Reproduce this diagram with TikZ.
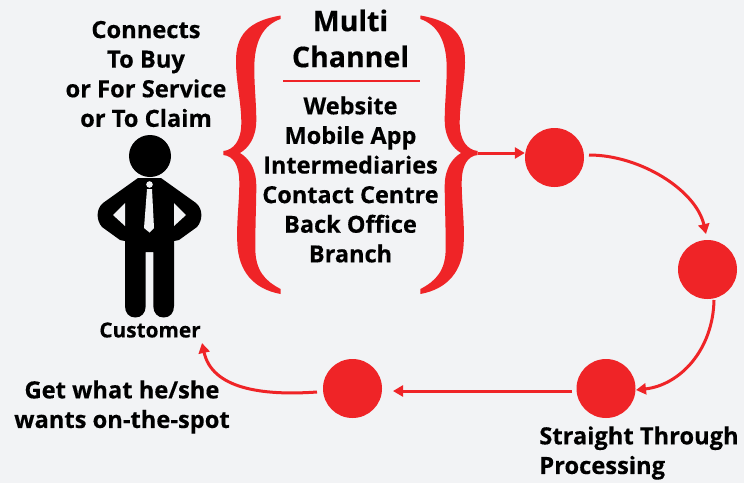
\documentclass[tikz,border=0pt]{standalone}
\usepackage{fontspec}
\setmainfont[BoldFeatures={FakeBold=0.35}]{Open Sans}
\usetikzlibrary{arrows.meta}
\definecolor{flowred}{HTML}{EF2427}
\definecolor{pagegrey}{HTML}{F2F3F5}
\tikzset{
  stepdot/.style={circle,fill=flowred,minimum size=59pt,inner sep=0pt},
  flow/.style={-{Triangle[length=10pt,width=11pt]},flowred,line width=3pt},
  label/.style={align=center,font=\fontsize{23.7}{29.6}\selectfont\bfseries,inner sep=0pt},
  curlybrace/.pic={
    \fill[flowred] (57.3,-137.5) .. controls (25,-132) and (12,-118) .. (12.7,-90)
      .. controls (13,-70) and (18,-50) .. (18,-30) .. controls (18,-12) and (10,-3) .. (0,-2)
      -- (0,2) .. controls (10,3) and (16,12) .. (16,30) .. controls (16,50) and (13,70) .. (14,90)
      .. controls (15,118) and (30,136) .. (57.3,141) -- (57.3,136)
      .. controls (42,128) and (32,118) .. (32,95) .. controls (32,70) and (33,50) .. (33,33)
      .. controls (33,15) and (25,5) .. (16.7,0) .. controls (25,-5) and (33,-15) .. (33,-33)
      .. controls (33,-50) and (31,-65) .. (31,-85) .. controls (31,-112) and (40,-128) .. (57.3,-134) -- cycle;
  }
}
\begin{document}
\begin{tikzpicture}[x=1pt,y=-1pt]

% Background
\fill[pagegrey] (0,0) rectangle (744,483);
\useasboundingbox (0,0) rectangle (744,483);

% Customer figure
\fill[black] (150,156) circle (21);
\fill[black] (138,178) -- (161,178) -- (196,203) .. controls (203,209) and (203,220) .. (197,227)
  -- (179,240) -- (174,241) -- (174,306) .. controls (174,313) and (170,317.5) .. (163.7,317.5)
  .. controls (157.5,317.5) and (153.3,313) .. (153.3,306) -- (153.3,252) -- (145.7,252) -- (145.7,306)
  .. controls (145.7,313) and (141.5,317.5) .. (135.3,317.5) .. controls (129,317.5) and (125,313) .. (125,306)
  -- (125,241) -- (120,240) -- (102,227) .. controls (96,220) and (96,209) .. (103,203) -- cycle;
\fill[pagegrey] (125,203) -- (113,215) -- (125,226) -- cycle;
\fill[pagegrey] (174,203) -- (186,215) -- (174,226) -- cycle;
\fill[pagegrey] (149.5,184.5) circle (3.3);
\fill[pagegrey] (147,189) -- (144,228) -- (149.5,232.5) -- (154,228) -- (152,189) -- cycle;

% Texts
\node[label] (connects) at (146,74) {Connects\\To Buy\\or For Service\\or To Claim};
\node[label,font=\fontsize{20.8}{24}\selectfont\bfseries] (customer) at (150,330) {Customer};
\node[label,font=\fontsize{28.5}{36}\selectfont\bfseries] (multi) at (350.5,38.5) {Multi\\Channel};
\node[label,font=\fontsize{23.5}{29.6}\selectfont\bfseries] (channels) at (350.5,179.5) {Website\\Mobile App\\Intermediaries\\Contact Centre\\Back Office\\Branch};
\node[label] (spot) at (122,407) {Get what he/she\\wants on-the-spot};
\node[label,align=left] (straight) at (639,453) {Straight Through\\Processing};

% Rule under the title
\coordinate (ruleL) at (283,81);
\coordinate (ruleR) at (420,81);
\draw[flowred,line width=1.3pt] (ruleL) -- (ruleR);

% Braces
\pic at (223.3,153) {curlybrace};
\pic[xscale=-1] at (477.7,153) {curlybrace};
\coordinate (braceR) at (478,153);

% Steps
\node[stepdot] (stepA) at (554.5,157.5) {};
\node[stepdot] (stepB) at (707.5,269.5) {};
\node[stepdot] (stepC) at (606,388.5) {};
\node[stepdot] (stepD) at (352.5,388.5) {};

% Named ends of the arrows
\coordinate (outA) at (589,155);
\coordinate (inB) at (706,234);
\coordinate (outB) at (714,300);
\coordinate (inC) at (636,390);
\coordinate (outC) at (572,391);
\coordinate (inD) at (393,391);
\coordinate (outD) at (317,392);
\coordinate (inCustomer) at (202,343);

% Arrows
\draw[flow] (braceR) -- (stepA.west |- braceR);
\draw[flow] (outA) .. controls (640,155) and (696,190) .. (inB);
\draw[flow] (outB) .. controls (713,350) and (680,385) .. (inC);
\draw[flow] (outC) -- (inD);
\draw[flow] (outD) .. controls (260,396) and (212,388) .. (inCustomer);

\end{tikzpicture}
\end{document}
